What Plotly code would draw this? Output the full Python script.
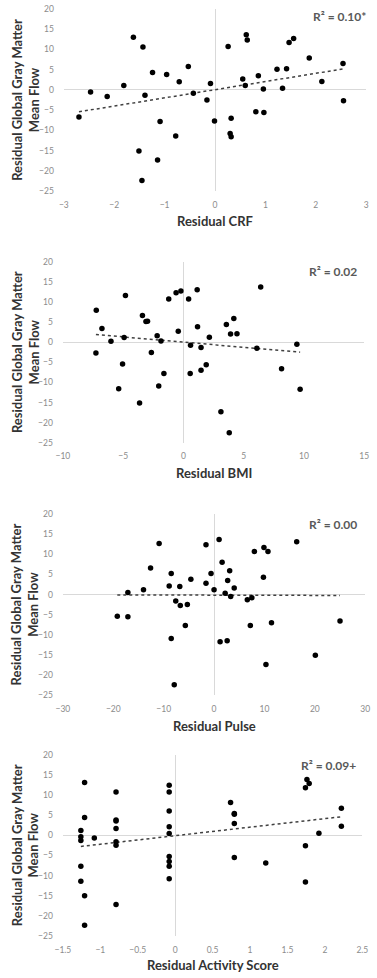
import numpy as np
import plotly.graph_objects as go

# ---------------- data ----------------
crf_x = [-2.70, -2.47, -2.14, -1.81, -1.62, -1.43, -1.39, -1.51, -1.45, -1.24, -1.14, -1.09, -0.96, -0.78,
         -0.71, -0.53, -0.43, -0.16, -0.09, -0.01, 0.26, 0.30, 0.32, 0.32, 0.55, 0.60, 0.62, 0.64, 0.81,
         0.86, 0.96, 0.97, 1.23, 1.34, 1.42, 1.47, 1.56, 1.87, 2.12, 2.54, 2.55]
crf_y = [-6.7, -0.5, -1.6, 1.1, 13.0, 10.6, -1.3, -15.1, -22.4, 4.3, -17.3, -7.8, 3.8, -11.4,
         2.0, 5.8, -0.8, -2.5, 1.6, -7.7, 10.7, -10.8, -11.6, -7.0, 2.7, 1.1, 13.6, 12.3, -5.4,
         3.5, 0.2, -5.6, 5.1, 0.4, 5.2, 11.7, 12.7, 7.9, 2.1, 6.5, -2.7]

bmi_x = [-7.23, -7.26, -6.76, -6.01, -4.81, -4.92, -5.05, -5.37, -3.64, -3.40, -3.11, -2.98, -2.66, -2.18,
         -1.86, -2.05, -1.62, -1.22, -0.61, -0.21, -0.43, 0.43, 0.59, 0.56, 1.14, 1.17, 1.46, 1.46, 1.89,
         2.15, 3.11, 3.56, 3.80, 3.91, 4.18, 4.44, 6.09, 6.41, 8.14, 9.41, 9.68]
bmi_y = [7.95, -2.7, 3.4, 0.25, 11.6, 1.15, -5.4, -11.6, -15.1, 6.6, 5.1, 5.2, -2.6, 1.6,
         0.3, -10.9, -7.8, 10.7, 12.3, 12.7, 2.7, 10.7, -0.8, -7.8, 13.0, 3.8, -1.3, -7.0, -5.6,
         1.2, -17.3, 4.4, -22.5, 2.0, 5.9, 2.1, -1.5, 13.7, -6.6, -0.5, -11.7]

pulse_x = [-19.2, -17.1, -17.1, -14.0, -12.6, -10.9, -8.9, -8.5, -8.5, -7.9, -7.6, -6.8, -6.7, -5.7,
           -5.3, -4.6, -1.6, -1.6, -0.6, 0.0, 1.0, 1.2, 1.6, 2.2, 2.6, 2.7, 3.1, 3.3, 4.0,
           6.6, 7.2, 7.5, 8.0, 9.8, 9.9, 10.3, 10.7, 11.4, 16.4, 20.1, 25.0]
pulse_y = [-5.4, -5.5, 0.5, 1.2, 6.6, 12.7, 2.1, 5.2, -10.9, -22.4, -1.6, 2.0, -2.7, -7.7,
           -2.5, 3.8, 12.4, 2.8, 5.2, 1.2, 13.7, -11.7, 8.0, 0.3, -11.5, 3.5, 5.9, -0.5, 1.6,
           -1.3, -7.7, -0.8, 10.7, 4.3, 11.7, -17.4, 10.7, -7.0, 13.1, -15.1, -6.6]

act_x = [-1.21, -1.21, -1.26, -1.26, -1.26, -1.08, -1.26, -1.26, -1.21, -1.21,
         -0.79, -0.79, -0.79, -0.79, -0.79, -0.79, -0.79,
         -0.08, -0.08, -0.08, -0.08, -0.08, -0.08, -0.08, -0.08, -0.08,
         0.74, 0.79, 0.79, 0.79, 0.79, 1.21, 1.92, 1.76, 1.74, 1.79, 1.74, 1.74, 2.22, 2.22]
act_y = [13.1, 4.4, 1.2, -0.4, -1.3, -0.7, -7.7, -11.4, -15.0, -22.3,
         10.7, 3.8, 3.5, 1.7, -1.6, -2.5, -17.2,
         12.4, 10.7, 6.0, 2.1, 0.4, -5.3, -6.5, -7.7, -10.8,
         8.1, 5.4, 5.2, 2.9, -5.5, -6.9, 0.5, 13.8, 11.8, 12.8, -2.6, -11.6, 6.7, 2.2]

# linear trend lines as drawn in the figure (slope, intercept)
trend_slope = [2.02, -0.259, -0.003, 2.115]
trend_intercept = [0.05, 0.01, -0.15, -0.115]

x_titles = ["Residual CRF", "Residual BMI", "Residual Pulse", "Residual Activity Score"]
r2_labels = ["R² = 0.10*", "R² = 0.02", "R² = 0.00", "R² = 0.09+"]
x_ranges = [[-3, 3], [-10, 15], [-30, 30], [-1.5, 2.5]]
x_dticks = [1, 5, 10, 0.5]
y_range = [-25, 20]
y_dtick = 5
y_title = "Residual Global Gray Matter<br>Mean Flow"

panels = [(crf_x, crf_y), (bmi_x, bmi_y), (pulse_x, pulse_y), (act_x, act_y)]

# ---------------- layout geometry (pixels) ----------------
W, H = 377, 978
tops = [4, 259.3, 514.3, 757.3]
bottoms = [188, 442.3, 697.3, 940.7]
lefts = [58, 57, 57, 57]
rights = [372, 370, 371, 368]
xtitle_y = [218, 473, 728, 970]
r2_y = [12, 269, 525, 768]
r2_right = [373, 363, 363, 362]

fig = go.Figure()
font_fam = "Lato, 'Open Sans', sans-serif"
annotations = []

for i, (xs, ys) in enumerate(panels):
    n = "" if i == 0 else str(i + 1)
    xa, ya = "x" + n, "y" + n
    xs_a = np.array(xs)
    lx = np.array([xs_a.min(), xs_a.max()])
    fig.add_trace(go.Scatter(x=lx, y=trend_slope[i] * lx + trend_intercept[i], mode="lines",
                             line=dict(color="#404040", width=1.5, dash="dot"),
                             xaxis=xa, yaxis=ya, showlegend=False, hoverinfo="skip"))
    fig.add_trace(go.Scatter(x=xs, y=ys, mode="markers",
                             marker=dict(color="black", size=5.5),
                             xaxis=xa, yaxis=ya, showlegend=False))
    xd = [lefts[i] / W, rights[i] / W]
    yd = [1 - bottoms[i] / H, 1 - tops[i] / H]
    axis_common = dict(showgrid=False, zeroline=True, zerolinecolor="#d9d9d9", zerolinewidth=1,
                       showline=False, ticks="", tickfont=dict(family=font_fam, size=8.5, color="#8c8c8c"),
                       fixedrange=True, ticklabeloverflow="allow")
    fig.layout["xaxis" + n] = dict(domain=xd, range=x_ranges[i], dtick=x_dticks[i], tick0=0,
                                   anchor=ya, ticklabelstandoff=7, **axis_common)
    fig.layout["yaxis" + n] = dict(domain=yd, range=y_range, dtick=y_dtick, tick0=0,
                                   anchor=xa, ticklabelstandoff=9, **axis_common)
    cx = (lefts[i] + rights[i]) / 2 / W
    annotations.append(dict(text="<b>" + x_titles[i] + "</b>", x=cx, y=1 - xtitle_y[i] / H,
                            xref="paper", yref="paper", showarrow=False, xanchor="center",
                            yanchor="middle", font=dict(family=font_fam, size=13, color="#333333")))
    annotations.append(dict(text="<b>" + y_title + "</b>", x=17.5 / W,
                            y=1 - (tops[i] + bottoms[i]) / 2 / H,
                            xref="paper", yref="paper", showarrow=False, textangle=-90,
                            xanchor="center", yanchor="middle",
                            font=dict(family=font_fam, size=13, color="#333333")))
    annotations.append(dict(text="<b>" + r2_labels[i] + "</b>", x=r2_right[i] / W,
                            y=1 - r2_y[i] / H, xref="paper", yref="paper", showarrow=False,
                            xanchor="right", yanchor="middle", borderpad=0,
                            font=dict(family=font_fam, size=12, color="#595959")))

fig.update_layout(width=W, height=H, margin=dict(l=0, r=0, t=0, b=0),
                  paper_bgcolor="white", plot_bgcolor="white", annotations=annotations,
                  showlegend=False)

fig.write_html("out.html", config={"displayModeBar": False},
               post_script="document.body.style.margin='0';document.body.style.overflow='hidden';")
